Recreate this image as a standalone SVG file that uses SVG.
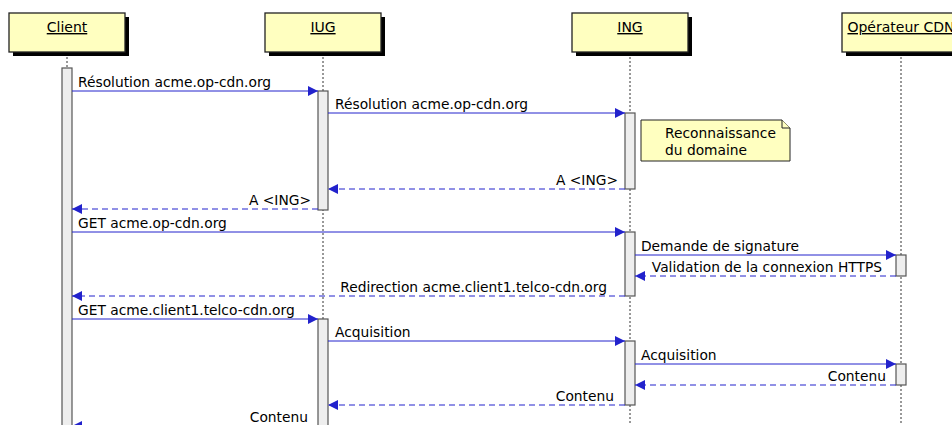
<svg xmlns="http://www.w3.org/2000/svg" width="952" height="425" viewBox="0 0 952 425">
<defs>
<marker id="ah" viewBox="0 0 10 10" refX="10" refY="5" markerWidth="10" markerHeight="10" markerUnits="userSpaceOnUse" orient="auto">
<path d="M0,0 L10,5 L0,10 z" fill="#2222cc"/>
</marker>
<style>
.hdr{fill:#ffffc0;stroke:#222;stroke-width:1.3}
.shd{fill:#000}
.ht{font-family:"DejaVu Sans",sans-serif;font-size:14px;fill:#000;text-anchor:middle;text-decoration:underline}
.life{stroke:#333;stroke-width:1;stroke-dasharray:2,2}
.act{fill:#eeeeee;stroke:#555;stroke-width:1.2}
.msg{stroke:#2222cc;stroke-width:1;fill:none;marker-end:url(#ah)}
.ret{stroke:#2222cc;stroke-width:1;fill:none;stroke-dasharray:6,4;marker-end:url(#ah)}
.t{font-family:"DejaVu Sans",sans-serif;font-size:13.8px;fill:#000}
.te{font-family:"DejaVu Sans",sans-serif;font-size:13.8px;fill:#000;text-anchor:end}
.note{fill:#ffffc0;stroke:#222;stroke-width:1}
</style>
</defs>
<rect width="952" height="425" fill="#fff"/>
<g id="lifelines">
<line class="life" x1="67" y1="57" x2="67" y2="425"/>
<line class="life" x1="323" y1="57" x2="323" y2="425"/>
<line class="life" x1="630" y1="57" x2="630" y2="425"/>
<line class="life" x1="901" y1="57" x2="901" y2="425"/>
</g>
<g id="client">
<rect class="shd" x="13" y="17" width="116" height="39"/>
<rect class="hdr" x="9" y="13" width="116" height="39"/>
<text class="ht" x="67" y="32">Client</text>
</g>
<g id="iug">
<rect class="shd" x="269" y="17" width="116" height="39"/>
<rect class="hdr" x="265" y="13" width="116" height="39"/>
<text class="ht" x="323" y="32">IUG</text>
</g>
<g id="ing">
<rect class="shd" x="576" y="17" width="116" height="39"/>
<rect class="hdr" x="572" y="13" width="116" height="39"/>
<text class="ht" x="630" y="32">ING</text>
</g>
<g id="cdn">
<rect class="shd" x="846" y="17" width="118" height="39"/>
<rect class="hdr" x="842" y="13" width="118" height="39"/>
<text class="ht" x="901" y="32">Opérateur CDN</text>
</g>
<g id="activations">
<rect class="act" x="62" y="68" width="10" height="370"/>
<rect class="act" x="318" y="91" width="10" height="119"/>
<rect class="act" x="625" y="113" width="10" height="76"/>
<rect class="act" x="625" y="232" width="10" height="64"/>
<rect class="act" x="896" y="255" width="10" height="21"/>
<rect class="act" x="318" y="319" width="10" height="120"/>
<rect class="act" x="625" y="341" width="10" height="64"/>
<rect class="act" x="896" y="364" width="10" height="21"/>
</g>
<g id="note">
<path class="note" d="M641,120 L782,120 L790,128 L790,161 L641,161 z"/>
<path class="note" d="M782,120 L782,128 L790,128"/>
<text class="t" x="665" y="138">Reconnaissance</text>
<text class="t" x="665" y="155">du domaine</text>
</g>
<g id="connectors">
<line class="msg" x1="72" y1="91" x2="318" y2="91"/>
<text class="t" x="78" y="87">Résolution acme.op-cdn.org</text>
<line class="msg" x1="328" y1="113" x2="625" y2="113"/>
<text class="t" x="335" y="109">Résolution acme.op-cdn.org</text>
<line class="ret" x1="625" y1="189" x2="328" y2="189"/>
<text class="te" x="618" y="185">A &lt;ING&gt;</text>
<line class="ret" x1="318" y1="209" x2="72" y2="209"/>
<text class="te" x="311" y="205">A &lt;ING&gt;</text>
<line class="msg" x1="72" y1="232" x2="625" y2="232"/>
<text class="t" x="78" y="228">GET acme.op-cdn.org</text>
<line class="msg" x1="635" y1="255" x2="896" y2="255"/>
<text class="t" x="641" y="251">Demande de signature</text>
<line class="ret" x1="896" y1="276" x2="635" y2="276"/>
<text class="te" x="882" y="272">Validation de la connexion HTTPS</text>
<line class="ret" x1="625" y1="296" x2="72" y2="296"/>
<text class="te" x="607" y="292">Redirection acme.client1.telco-cdn.org</text>
<line class="msg" x1="72" y1="319" x2="318" y2="319"/>
<text class="t" x="78" y="315">GET acme.client1.telco-cdn.org</text>
<line class="msg" x1="328" y1="341" x2="625" y2="341"/>
<text class="t" x="335" y="337">Acquisition</text>
<line class="msg" x1="635" y1="364" x2="896" y2="364"/>
<text class="t" x="641" y="360">Acquisition</text>
<line class="ret" x1="896" y1="385" x2="635" y2="385"/>
<text class="te" x="886" y="381">Contenu</text>
<line class="ret" x1="625" y1="405" x2="328" y2="405"/>
<text class="te" x="614" y="401">Contenu</text>
<line class="ret" x1="318" y1="426" x2="72" y2="426"/>
<text class="te" x="308" y="422">Contenu</text>
</g>
</svg>
